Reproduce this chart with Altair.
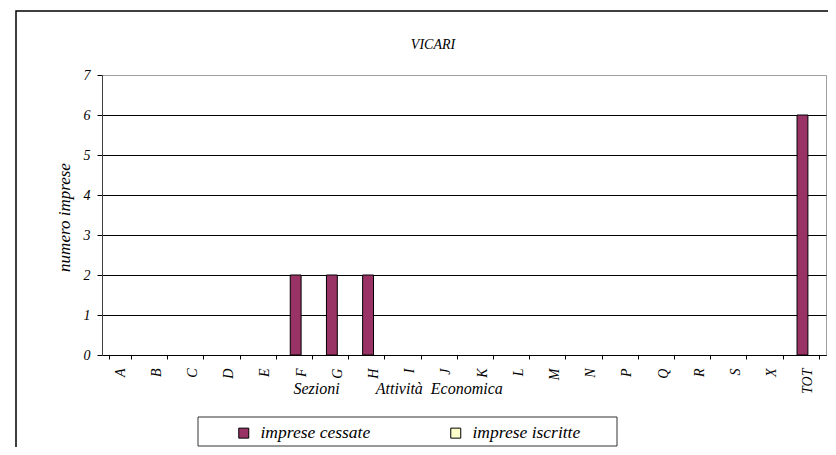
import altair as alt
import pandas as pd

# ---- data ----
categories = ["A", "B", "C", "D", "E", "F", "G", "H", "I", "J",
              "K", "L", "M", "N", "P", "Q", "R", "S", "X", "TOT"]
cessate = [0, 0, 0, 0, 0, 2, 2, 2, 0, 0, 0, 0, 0, 0, 0, 0, 0, 0, 0, 6]
iscritte = [0, 0, 0, 0, 0, 0, 0, 0, 0, 0, 0, 0, 0, 0, 0, 0, 0, 0, 0, 0]
series = ["imprese cessate", "imprese iscritte"]
colors = ["#993366", "#FFFFCC"]
y_ticks = [0, 1, 2, 3, 4, 5, 6, 7]
chart_title = "VICARI"
y_title = "numero imprese"
x_title = "Sezioni" + "\u00a0" * 9 + "Attività" + "\u00a0" * 2 + "Economica"

rows = []
for c, a, b in zip(categories, cessate, iscritte):
    rows.append({"sezione": c, "serie": series[0], "valore": a})
    rows.append({"sezione": c, "serie": series[1], "valore": b})
df = pd.DataFrame(rows)

FONT = "Liberation Serif"
W, H = 724, 280

bars = alt.Chart(df).mark_bar(stroke="black", strokeWidth=1).encode(
    x=alt.X(
        "sezione:N", sort=categories,
        scale=alt.Scale(paddingInner=0.4, paddingOuter=0.2),
        axis=alt.Axis(
            title=x_title, labelAngle=-90, labelAlign="right", labelBaseline="middle",
            labelFont=FONT, labelFontStyle="italic", labelFontSize=14, labelColor="black",
            labelPadding=9, tickSize=4, tickColor="black", tickBand="extent",
            domainColor="black", grid=False,
            titleFont=FONT, titleFontStyle="italic", titleFontSize=16, titleFontWeight="normal",
            titleColor="black", titleAlign="left", titleBaseline="middle",
            titleX=191, titleY=33,
        ),
    ),
    xOffset=alt.XOffset("serie:N", sort=series,
                        scale=alt.Scale(paddingInner=0, paddingOuter=0)),
    y=alt.Y(
        "valore:Q",
        scale=alt.Scale(domain=[0, 7], nice=False),
        axis=alt.Axis(
            title=y_title, values=y_ticks, format="d",
            labelFont=FONT, labelFontStyle="italic", labelFontSize=14, labelColor="black",
            labelPadding=7, tickSize=5, tickColor="black",
            domainColor="#404040",
            grid=True,
            gridColor={"condition": {"test": "datum.value === 7", "value": "#a0a0a0"},
                       "value": "black"},
            gridWidth=1,
            titleFont=FONT, titleFontStyle="italic", titleFontSize=17, titleFontWeight="normal",
            titleColor="black", titleAngle=270, titleAlign="center", titleBaseline="middle",
            titleX=-38, titleY=142,
        ),
    ),
    color=alt.Color(
        "serie:N", sort=series,
        scale=alt.Scale(domain=series, range=colors),
        legend=alt.Legend(
            title=None, orient="none", legendX=133, legendY=349, direction="horizontal",
            symbolType="square", symbolSize=100, symbolStrokeColor="black",
            symbolStrokeWidth=1, symbolOpacity=1,
            labelFont=FONT, labelFontStyle="italic", labelFontSize=17.5, labelColor="black",
            labelOffset=8, columnPadding=76,
        ),
    ),
    strokeOpacity=alt.condition(alt.datum.valore > 0, alt.value(1), alt.value(0)),
)

frame_df = pd.DataFrame({"k": [0]})

outer = alt.Chart(frame_df).mark_rect(
    fillOpacity=0, stroke="black", strokeWidth=1.5
).encode(
    x=alt.value(-86), x2=alt.value(760), y=alt.value(-64), y2=alt.value(420)
)

legend_box = alt.Chart(frame_df).mark_rect(
    fill="white", stroke="#333333", strokeWidth=1
).encode(
    x=alt.value(96), x2=alt.value(515), y=alt.value(342), y2=alt.value(371)
)

title = alt.Chart(frame_df).mark_text(
    font=FONT, fontStyle="italic", fontSize=14, color="black",
    align="center", baseline="middle"
).encode(
    x=alt.value(331), y=alt.value(-30), text=alt.value(chart_title)
)

chart = alt.layer(outer, legend_box, bars, title).properties(
    width=W, height=H,
    padding={"left": 94, "top": 67, "right": 2, "bottom": 92},
    autosize=alt.AutoSizeParams(type="none"),
).configure_view(stroke="#a0a0a0", strokeWidth=1)

chart.save("out.html", embed_options={"renderer": "svg", "actions": False})
